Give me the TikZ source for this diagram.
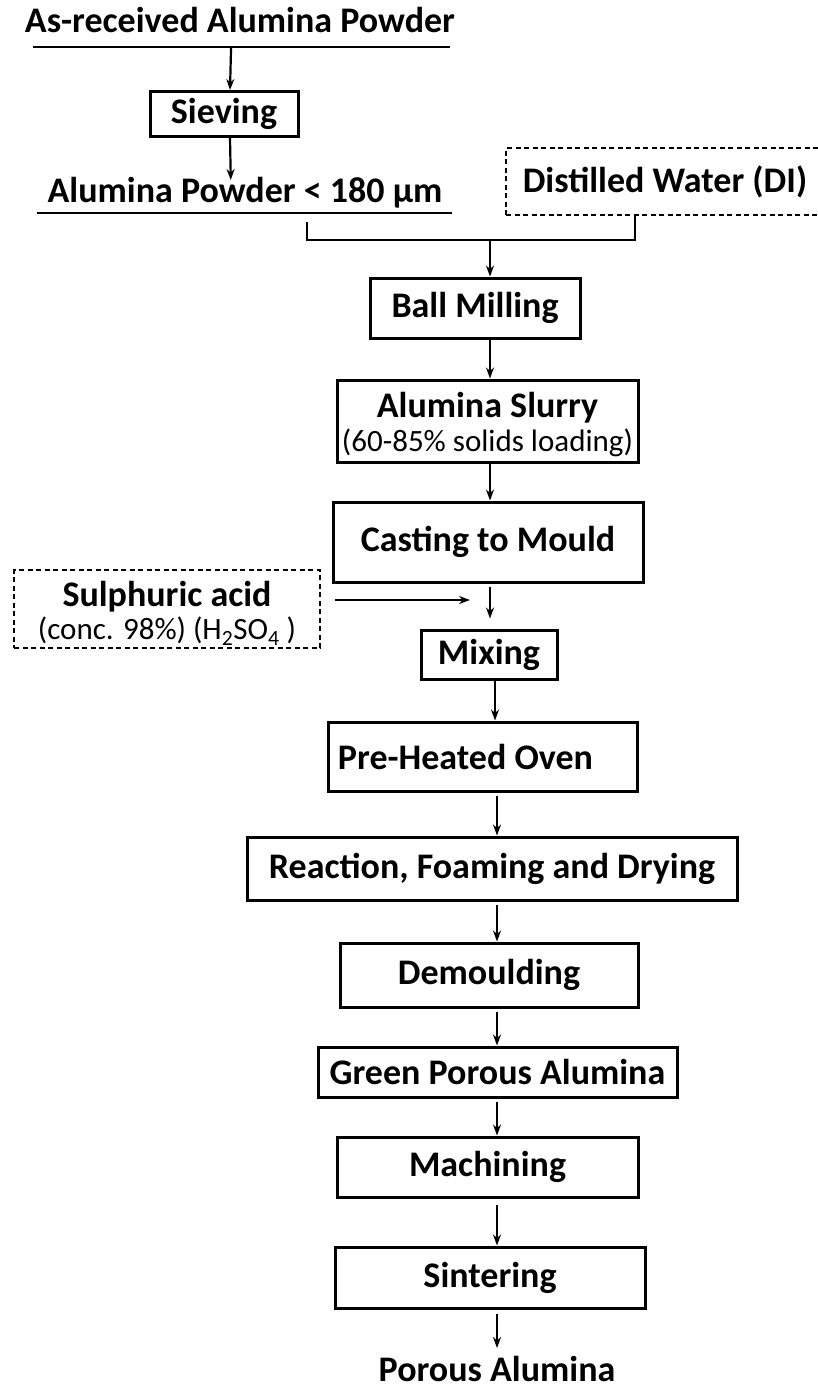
\documentclass[tikz,border=0pt]{standalone}
\usepackage{fontspec}
\setmainfont{Carlito}
\usetikzlibrary{arrows.meta,calc}
\newcommand\mysubfnt{\mdseries\fontsize{31}{33}\selectfont}
\begin{document}
\begin{tikzpicture}[x=1pt,y=-1pt,
 bigfont/.style={font=\bfseries\fontsize{36}{40}\selectfont},
 box/.style={draw, line width=3pt, bigfont, inner sep=0pt, align=center},
 dbox/.style={draw, dash pattern=on 5pt off 3.5pt, line width=2.6pt, bigfont, inner sep=0pt, align=center},
 lbl/.style={bigfont, inner sep=0pt},
 uline/.style={line width=2.6pt},
 conn/.style={line width=2.2pt},
 arr/.style={line width=2.2pt, -{Stealth[length=11pt,width=8pt]}},
]
\useasboundingbox (0,0) rectangle (817,1392);
\coordinate (cx) at (497,0);
\coordinate (cl) at (230,0);

% top part
\node[lbl] (raw) at (240,20) {As-received Alumina Powder};
\coordinate (rawL) at (33,47);
\coordinate (rawR) at (450,47);
\draw[uline] (rawL) -- (rawR);
\node[box, minimum width=148, minimum height=45] (sieve) at (224,114) {Sieving};
\node[lbl] (fine) at (245,193) {Alumina Powder < 180 µm};
\coordinate (fineL) at (37,213);
\coordinate (fineR) at (452,213);
\draw[uline] (fineL) -- (fineR);
\node[dbox, minimum width=318, minimum height=67] (dw) at (665,181.5) {Distilled Water (DI)};

\draw[arr] ($(rawL)!0.475!(rawR)$) -- (sieve.north -| cl);
\draw[arr] (sieve.south -| cl) -- ($(fineL)!0.467!(fineR)+(0,-33)$);

% merge bracket
\coordinate (bL) at (307,222);
\coordinate (bR) at (635,215);
\coordinate (bM) at (490,240);
\draw[conn] (bL) |- (bM) -| (bR);

\node[box, minimum width=210, minimum height=60] (ball) at (475,308) {Ball Milling};
\draw[arr] (bM) -- (bM |- ball.north);

\node[box, minimum width=301, minimum height=82] (slurry) at (487.5,421) {\rule{0pt}{33pt}Alumina Slurry\\[-6pt]{\mysubfnt (60-85\% solids loading)}};
\draw[arr] (ball.south -| bM) -- (slurry.north -| bM);

\node[box, minimum width=310, minimum height=80] (cast) at (488,542) {Casting to Mould};
\draw[arr] (slurry.south -| bM) -- (cast.north -| bM);

\node[dbox, minimum width=306, minimum height=78] (acid) at (167,609) {\rule{0pt}{34pt}Sulphuric acid\\[-7pt]{\mysubfnt (conc. 98\%) (H\textsubscript{2}SO\textsubscript{4} )}};

\node[box, minimum width=136, minimum height=49] (mix) at (489,654.5) {Mixing};
\draw[arr] ($(cast.south)+(2,3)$) -- ($(mix.north)+(1,-10)$);
\coordinate (acidR) at (335,600);
\coordinate (acidT) at (470,600);
\draw[arr] (acidR) -- (acidT);

\node[box, minimum width=309, minimum height=69] (oven) at (482.5,756.5) {\hspace*{-34pt}Pre-Heated Oven};
\draw[arr] (mix.south -| 495,0) -- (oven.north -| 495,0);

\node[box, minimum width=490, minimum height=63] (react) at (492,868.5) {Reaction, Foaming and Drying};
\draw[arr] ($(oven.south -| cx)+(0,3)$) -- (react.north -| cx);

\node[box, minimum width=298, minimum height=64] (demould) at (489,975) {Demoulding};
\draw[arr] ($(react.south -| cx)+(0,3)$) -- (demould.north -| cx);

\node[box, minimum width=359, minimum height=50] (green) at (497.5,1072) {Green Porous Alumina};
\draw[arr] ($(demould.south -| cx)+(0,3)$) -- (green.north -| cx);

\node[box, minimum width=301, minimum height=60] (mach) at (487.5,1167) {Machining};
\draw[arr] ($(green.south -| cx)+(0,3)$) -- (mach.north -| cx);

\node[box, minimum width=310, minimum height=61] (sint) at (490,1277.5) {Sintering};
\draw[arr] ($(mach.south -| cx)+(0,6)$) -- (sint.north -| cx);

\node[lbl] (porous) at (497,1369) {Porous Alumina};
\draw[arr] ($(sint.south -| cx)+(0,4)$) -- ($(porous.north -| cx)+(0,-8)$);
\end{tikzpicture}
\end{document}
